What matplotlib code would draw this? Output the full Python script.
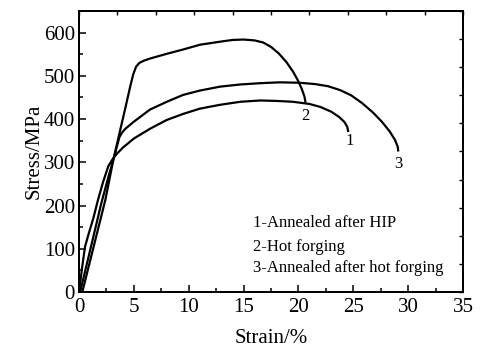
import matplotlib
matplotlib.use("Agg")
import matplotlib.pyplot as plt
from matplotlib.ticker import MultipleLocator

plt.rcParams['font.family'] = ['Liberation Serif', 'DejaVu Serif']
plt.rcParams['mathtext.fontset'] = 'stix'

# Curve 1 - Annealed after HIP
strain1 = [0, 0.3, 0.55, 0.85, 1.3, 1.73, 2.2, 2.67, 3.13, 3.5, 4.0, 5.0, 6.5, 8.0, 9.5, 11.0,
           12.85, 14.7, 16.5, 18.0, 19.5, 21.0, 22.0, 23.0, 23.7, 24.2, 24.45, 24.55]
stress1 = [0, 60, 105, 132, 170, 213, 255, 291, 310, 321, 334, 355, 378, 398, 412, 424,
           433, 440, 443, 442, 440, 435, 428, 417, 405, 393, 382, 370]

# Curve 2 - Hot forging
strain2 = [0.3, 1.0, 2.4, 3.13, 3.74, 4.19, 4.7, 4.95, 5.2, 5.5, 5.9, 6.47, 8.0, 9.5, 11.03,
           12.85, 14.0, 15.0, 16.0, 16.8, 17.5, 18.2, 18.9, 19.5, 19.9, 20.3, 20.55, 20.65]
stress2 = [0, 71, 213, 306, 373, 422, 479, 504, 521, 530, 535, 540, 551, 561, 572,
           579, 583, 584, 582, 577, 567, 552, 532, 510, 492, 470, 452, 438]

# Curve 3 - Annealed after hot forging
strain3 = [0.1, 1.0, 2.03, 2.7, 3.13, 3.68, 3.9, 4.2, 4.95, 6.47, 8.0, 9.5, 11.03, 12.85,
           14.68, 16.5, 18.3, 20.1, 21.5, 22.7, 23.8, 24.8, 25.8, 26.8, 27.6, 28.3, 28.8, 29.05, 29.1]
stress3 = [0, 95, 205, 268, 306, 358, 368, 377, 393, 422, 440, 456, 466, 475,
           480, 483, 485, 484, 481, 476, 467, 455, 437, 415, 394, 372, 352, 336, 325]

curve_labels = ["1", "2", "3"]
legend_lines = ["1-Annealed after HIP", "2-Hot forging", "3-Annealed after hot forging"]

fig = plt.figure(figsize=(4.8, 3.56), dpi=100)
ax = fig.add_axes([0.1646, 0.1798, 0.80, 0.7893])

for s, t in [(strain1, stress1), (strain2, stress2), (strain3, stress3)]:
    ax.plot(s, t, color='black', lw=1.6, solid_joinstyle='round', solid_capstyle='butt')

ax.set_xlim(0, 35)
ax.set_ylim(0, 650)
ax.xaxis.set_major_locator(MultipleLocator(5))
ax.xaxis.set_minor_locator(MultipleLocator(2.5))
ax.yaxis.set_major_locator(MultipleLocator(100))
ax.yaxis.set_minor_locator(MultipleLocator(50))
ax.tick_params(which='both', direction='in', width=1.1, labelsize=15)
ax.tick_params(axis='x', pad=4)
ax.tick_params(axis='y', pad=3)
ax.tick_params(which='major', length=5)
ax.tick_params(which='minor', length=3)
for sp in ax.spines.values():
    sp.set_linewidth(1.4)

# top and right ticks
axt = ax.twiny()
axt.set_xlim(0, 35)
axt.xaxis.set_major_locator(MultipleLocator(3.5))
axt.tick_params(direction='in', length=3, width=1.0, labeltop=False)
axr = ax.twinx()
axr.set_ylim(0, 650)
axr.yaxis.set_major_locator(MultipleLocator(65))
axr.tick_params(direction='in', length=3, width=1.0, labelright=False)
for a in (axt, axr):
    for sp in a.spines.values():
        sp.set_linewidth(1.4)

ax.set_xlabel("Strain/%", fontsize=15, labelpad=9)
ax.set_ylabel("Stress/MPa", fontsize=15, labelpad=0)

# curve labels
ax.text(24.7, 349, curve_labels[0], fontsize=12, ha='center', va='center')
ax.text(20.65, 407, curve_labels[1], fontsize=12, ha='center', va='center')
ax.text(29.1, 296, curve_labels[2], fontsize=12, ha='center', va='center')

for y, s in zip([159, 105, 55], legend_lines):
    ax.text(15.85, y, s, fontsize=12, ha='left', va='center')

fig.savefig("out.png", dpi=100)
